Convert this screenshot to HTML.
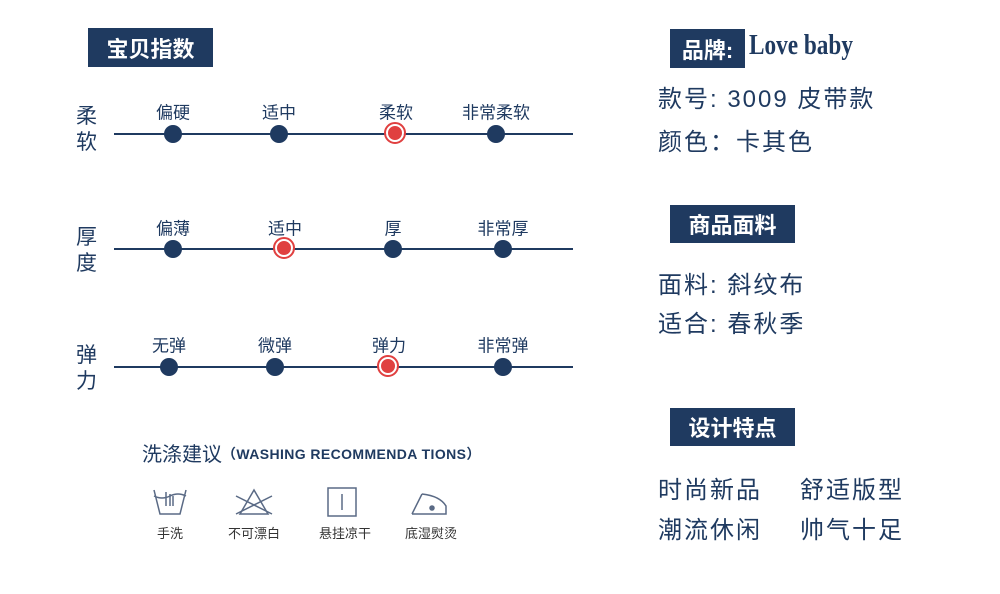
<!DOCTYPE html><html><head><meta charset="utf-8"><style>
body{margin:0;width:1000px;height:594px;background:#fff;position:relative;overflow:hidden;font-family:"Liberation Sans","Noto Sans CJK SC",sans-serif;color:#1f3a60}
.a{position:absolute;white-space:nowrap;line-height:1}
.box{position:absolute;background:#1f3a60;color:#fff;font-weight:bold;font-size:22px;display:flex;align-items:center;justify-content:center}
.ln{position:absolute;left:114px;width:459px;height:2px;background:#1f3a60}
.d{position:absolute;width:18px;height:18px;border-radius:50%;background:#1f3a60;margin:-9px 0 0 -9px}
.r{position:absolute;width:16px;height:16px;border-radius:50%;background:#e04040;border:2px solid #e04040;box-shadow:inset 0 0 0 2px #fff;margin:-12px 0 0 -12px;padding:1px;background-clip:content-box}
.lb{position:absolute;font-size:17px;transform:translate(-50%,-50%);white-space:nowrap;line-height:1}
.rl{position:absolute;font-size:21px;left:76px;line-height:1}
.t{position:absolute;font-size:24px;left:658px;line-height:1;white-space:nowrap;letter-spacing:2px}
.w{position:absolute;font-size:13px;transform:translateX(-50%);line-height:1;color:#333}
</style></head><body>
<div class="box" style="left:88px;top:28px;width:125px;height:39px">宝贝指数</div>

<div class="rl" style="top:106px">柔</div><div class="rl" style="top:132px">软</div>
<div class="ln" style="top:133px"></div>
<div class="lb" style="left:173px;top:113px">偏硬</div><div class="lb" style="left:279px;top:113px">适中</div><div class="lb" style="left:396px;top:113px">柔软</div><div class="lb" style="left:496px;top:113px">非常柔软</div>
<div class="d" style="left:173px;top:134px"></div><div class="d" style="left:279px;top:134px"></div><div class="r" style="left:396px;top:134px"></div><div class="d" style="left:496px;top:134px"></div>

<div class="rl" style="top:227px">厚</div><div class="rl" style="top:253px">度</div>
<div class="ln" style="top:248px"></div>
<div class="lb" style="left:173px;top:229px">偏薄</div><div class="lb" style="left:285px;top:229px">适中</div><div class="lb" style="left:393px;top:229px">厚</div><div class="lb" style="left:503px;top:229px">非常厚</div>
<div class="d" style="left:173px;top:249px"></div><div class="r" style="left:285px;top:249px"></div><div class="d" style="left:393px;top:249px"></div><div class="d" style="left:503px;top:249px"></div>

<div class="rl" style="top:345px">弹</div><div class="rl" style="top:371px">力</div>
<div class="ln" style="top:366px"></div>
<div class="lb" style="left:169px;top:346px">无弹</div><div class="lb" style="left:275px;top:346px">微弹</div><div class="lb" style="left:389px;top:346px">弹力</div><div class="lb" style="left:503px;top:346px">非常弹</div>
<div class="d" style="left:169px;top:367px"></div><div class="d" style="left:275px;top:367px"></div><div class="r" style="left:389px;top:367px"></div><div class="d" style="left:503px;top:367px"></div>

<div class="a" style="left:142px;top:445px;font-size:20px">洗涤建议<span style="font-size:14px;font-weight:bold;vertical-align:2px;letter-spacing:0.4px">（WASHING RECOMMENDA TIONS）</span></div>
<svg class="a" style="left:140px;top:484px" width="340" height="36" fill="none" stroke="#5a6a85" stroke-width="1.5">
<path d="M14 6 L20 30 H40 L46 6"/><path d="M14 12 Q22 16 30 12 T46 12"/><path d="M26 8 v14 M30 10 v12 M33 12 v10"/>
<path d="M100 30 L114 6 L128 30 Z"/><path d="M96 12 L132 30 M132 12 L96 30"/>
<rect x="188" y="4" width="28" height="28"/><path d="M202 10 v16"/>
<path d="M272 30 H306 V22 Q300 12 282 10 M282 10 Q276 22 272 30"/><circle cx="292" cy="24" r="2" fill="#5a6a85"/>
</svg>
<div class="w" style="left:170px;top:527px">手洗</div><div class="w" style="left:254px;top:527px">不可漂白</div><div class="w" style="left:345px;top:527px">悬挂凉干</div><div class="w" style="left:431px;top:527px">底湿熨烫</div>

<div class="box" style="left:670px;top:29px;width:75px;height:39px">品牌:</div>
<div class="a" style="left:749px;top:32px;font-size:28px;font-weight:bold;font-family:'Liberation Serif',serif;transform:scaleX(.83);transform-origin:left">Love baby</div>
<div class="t" style="top:88px">款号: 3009 皮带款</div>
<div class="t" style="top:131px">颜色：卡其色</div>

<div class="box" style="left:670px;top:205px;width:125px;height:38px">商品面料</div>
<div class="t" style="top:274px">面料: 斜纹布</div>
<div class="t" style="top:313px">适合: 春秋季</div>

<div class="box" style="left:670px;top:408px;width:125px;height:38px">设计特点</div>
<div class="t" style="top:479px">时尚新品</div><div class="t" style="top:479px;left:800px">舒适版型</div>
<div class="t" style="top:519px">潮流休闲</div><div class="t" style="top:519px;left:800px">帅气十足</div>
</body></html>
